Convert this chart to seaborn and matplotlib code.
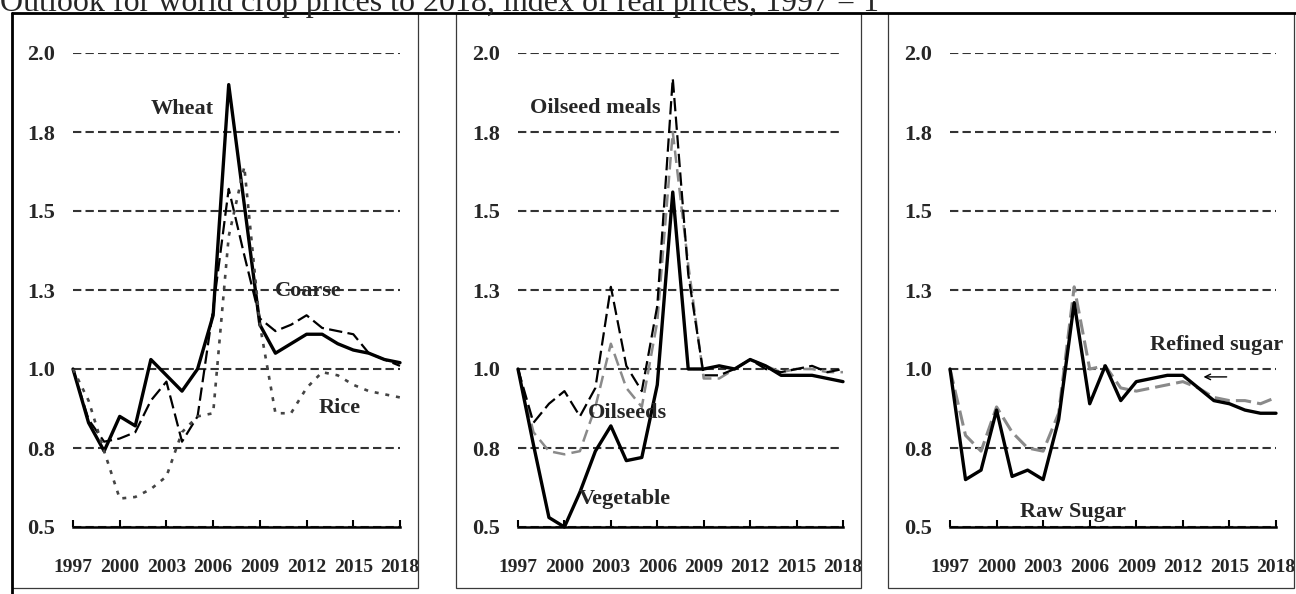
import matplotlib
matplotlib.use("Agg")
import matplotlib.pyplot as plt
from matplotlib.patches import Rectangle
from matplotlib.lines import Line2D
import pandas as pd
import seaborn as sns

# data (index, 1997 = 1)
years = list(range(1997, 2019))
year_ticks = [1997, 2000, 2003, 2006, 2009, 2012, 2015, 2018]
y_ticks = [0.5, 0.75, 1.0, 1.25, 1.5, 1.75, 2.0]
y_tick_labels = ["0.5", "0.8", "1.0", "1.3", "1.5", "1.8", "2.0"]

wheat = [1.00, 0.83, 0.74, 0.85, 0.82, 1.03, 0.98, 0.93, 1.00, 1.17, 1.90,
         1.52, 1.14, 1.05, 1.08, 1.11, 1.11, 1.08, 1.06, 1.05, 1.03, 1.02]
coarse = [1.00, 0.84, 0.77, 0.78, 0.80, 0.90, 0.96, 0.77, 0.85, 1.19, 1.57,
          1.36, 1.16, 1.12, 1.14, 1.17, 1.13, 1.12, 1.11, 1.05, 1.03, 1.01]
rice = [1.00, 0.90, 0.74, 0.59, 0.595, 0.62, 0.66, 0.80, 0.85, 0.86, 1.42,
        1.64, 1.14, 0.86, 0.86, 0.94, 0.99, 0.98, 0.95, 0.93, 0.92, 0.91]

veg_oils = [1.00, 0.76, 0.53, 0.50, 0.61, 0.74, 0.82, 0.71, 0.72, 0.95, 1.56,
            1.00, 1.00, 1.01, 1.00, 1.03, 1.01, 0.98, 0.98, 0.98, 0.97, 0.96]
oilseeds = [1.00, 0.83, 0.89, 0.93, 0.85, 0.94, 1.26, 1.01, 0.93, 1.20, 1.92,
            1.30, 0.98, 0.98, 1.00, 1.03, 1.00, 0.99, 1.00, 1.01, 0.99, 1.00]
meals = [1.00, 0.80, 0.74, 0.73, 0.74, 0.88, 1.08, 0.94, 0.88, 1.15, 1.75,
         1.33, 0.97, 0.97, 1.00, 1.03, 1.01, 0.99, 1.00, 1.00, 0.99, 0.99]

raw_sugar = [1.00, 0.65, 0.68, 0.87, 0.66, 0.68, 0.65, 0.84, 1.21, 0.89, 1.01,
             0.90, 0.96, 0.97, 0.98, 0.98, 0.94, 0.90, 0.89, 0.87, 0.86, 0.86]
refined = [1.00, 0.79, 0.74, 0.88, 0.80, 0.75, 0.74, 0.86, 1.26, 1.00, 1.01,
           0.94, 0.93, 0.94, 0.95, 0.96, 0.94, 0.91, 0.90, 0.90, 0.89, 0.91]

title = "Outlook for world crop prices to 2018, index of real prices, 1997 = 1"

sns.set_style("white")
plt.rcParams["font.family"] = ["Liberation Serif", "DejaVu Serif"]

W, H = 1296, 594
fig = plt.figure(figsize=(W / 100, H / 100), dpi=100)

# line styles
solid = dict(color="black", linewidth=2.4, linestyle="-")
long_dash = dict(color="black", linewidth=1.6, linestyle=(0, (6, 2.4)))
grey_dash = dict(color="#8a8a8a", linewidth=1.8, linestyle=(0, (5, 2.5)))
sugar_dash = dict(color="#8a8a8a", linewidth=2.2, linestyle=(0, (5, 2)))
rice_dot = dict(color="#444444", linewidth=1.9, linestyle=(0, (1.5, 2.6)))

panels = [
    (73, 327, [(wheat, solid), (coarse, long_dash), (rice, rice_dot)]),
    (518, 325, [(meals, grey_dash), (oilseeds, long_dash), (veg_oils, solid)]),
    (950, 326, [(refined, sugar_dash), (raw_sugar, solid)]),
]

axes = []
for left, width, series in panels:
    ax = fig.add_axes([left / W, 67 / H, width / W, 474 / H])
    for values, style in series:
        df = pd.DataFrame({"year": years, "value": values})
        sns.lineplot(data=df, x="year", y="value", ax=ax, legend=False,
                     clip_on=False, **style)
    ax.set_xlim(1997, 2018)
    ax.set_ylim(0.5, 2.0)
    ax.set_xticks(year_ticks)
    ax.set_xticklabels([str(y) for y in year_ticks])
    ax.set_yticks(y_ticks)
    ax.set_yticklabels(y_tick_labels)
    ax.set_xlabel("")
    ax.set_ylabel("")
    ax.set_facecolor("none")
    for side in ["top", "right", "left"]:
        ax.spines[side].set_visible(False)
    ax.spines["bottom"].set_color("black")
    ax.spines["bottom"].set_linewidth(1.8)
    ax.spines["bottom"].set_zorder(5)
    ax.set_axisbelow(True)
    ax.yaxis.grid(True, color="#333333", linewidth=1.5, linestyle=(0, (4, 2)))
    ax.xaxis.grid(False)
    ax.tick_params(axis="x", bottom=True, direction="in", length=5, width=1.5,
                   color="black", pad=23, labelsize=14)
    ax.tick_params(axis="y", left=False, length=0, pad=13, labelsize=16)
    for lab in ax.get_xticklabels() + ax.get_yticklabels():
        lab.set_fontweight("bold")
    axes.append(ax)

ax1, ax2, ax3 = axes
lab_kw = dict(ha="center", va="center", fontsize=16, fontweight="bold")
ax1.text(2004.0, 1.823, "Wheat", **lab_kw)
ax1.text(2012.1, 1.247, "Coarse", **lab_kw)
ax1.text(2014.15, 0.877, "Rice", **lab_kw)
ax2.text(2002.0, 1.826, "Oilseed meals", **lab_kw)
ax2.text(2004.1, 0.861, "Oilseeds", **lab_kw)
ax2.text(2003.9, 0.589, "Vegetable", **lab_kw)
ax3.text(2014.2, 1.076, "Refined sugar", **lab_kw)
ax3.text(2004.9, 0.547, "Raw Sugar", **lab_kw)
ax3.annotate("", xy=(2013.15, 0.975), xytext=(2015.0, 0.975),
             arrowprops=dict(arrowstyle="->", color="black", lw=1.0))

# panel boxes and outer frame (pixel positions measured from the top)
for x0, x1 in [(12, 418), (456, 861), (888, 1294)]:
    fig.add_artist(Rectangle((x0 / W, 6 / H), (x1 - x0) / W, 575 / H,
                             transform=fig.transFigure, fill=False,
                             edgecolor="#3a3a3a", linewidth=0.9))
fig.add_artist(Line2D([12 / W, 1], [1 - 13 / H, 1 - 13 / H],
                      transform=fig.transFigure, color="black", linewidth=2))
fig.add_artist(Line2D([12 / W, 12 / W], [0, 1 - 13 / H],
                      transform=fig.transFigure, color="black", linewidth=2))

fig.text(0.0, 1 - 10.5 / H, title, fontsize=23, ha="left", va="baseline")

fig.savefig("out.png", dpi=100)
